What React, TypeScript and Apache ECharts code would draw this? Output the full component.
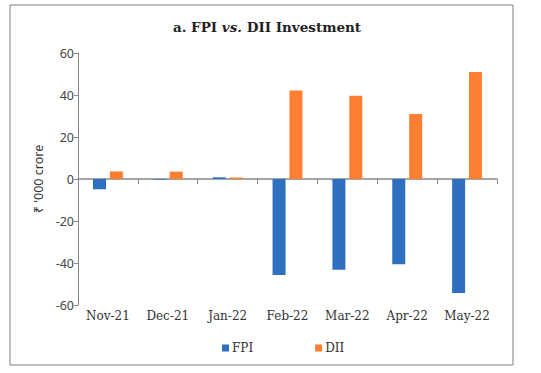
import React, { useEffect, useRef } from "react";
import * as echarts from "echarts";

const categories = ["Nov-21", "Dec-21", "Jan-22", "Feb-22", "Mar-22", "Apr-22", "May-22"];
const fpiValues = [-4.9, -0.3, 0.8, -45.7, -43.2, -40.6, -54.3];
const diiValues = [3.6, 3.5, 0.7, 42.2, 39.7, 31.0, 51.0];
const yTicks = { min: -60, max: 60, interval: 20 };
const seriesNames = ["FPI", "DII"];
const titleText = "{b|a. FPI }{i|vs.}{b| DII Investment}";
const yAxisName = "₹ '000 crore";

const SERIF = "'DejaVu Serif', serif";
const SANS = "'Noto Sans', sans-serif";

export default function App() {
  const ref = useRef<HTMLDivElement>(null);
  useEffect(() => {
    if (!ref.current) return;
    const chart = echarts.init(ref.current, null, { renderer: "svg" });
    chart.setOption({
      animation: false,
      backgroundColor: "#ffffff",
      graphic: [
        {
          type: "rect",
          shape: { x: 10, y: 5, width: 503, height: 360 },
          style: { fill: "none", stroke: "#7f7f7f", lineWidth: 1 },
          silent: true,
        },
      ],
      title: {
        text: titleText,
        left: 262,
        top: 15,
        textAlign: "center",
        textStyle: {
          rich: {
            b: { fontFamily: SERIF, fontWeight: "bold", fontSize: 13.5, color: "#222" },
            i: { fontFamily: SERIF, fontWeight: "bold", fontStyle: "italic", fontSize: 13.5, color: "#222" },
          },
        },
      },
      legend: {
        data: seriesNames,
        left: 217,
        top: 337,
        itemWidth: 7,
        itemHeight: 7,
        itemGap: 62,
        icon: "rect",
        textStyle: { fontFamily: SERIF, fontSize: 12, color: "#333", padding: [0, 0, 0, -2] },
      },
      grid: { left: 78, right: 44, top: 53, bottom: 68, containLabel: false },
      xAxis: [
        {
          type: "category",
          data: categories,
          position: "bottom",
          axisLine: { onZero: true, lineStyle: { color: "#888", width: 1.5 } },
          axisTick: { show: true, length: 5, lineStyle: { color: "#888" } },
          axisLabel: { show: false },
          splitLine: { show: false },
        },
        {
          type: "category",
          data: categories,
          position: "bottom",
          axisLine: { show: false, onZero: false },
          axisTick: { show: false },
          axisLabel: { show: true, interval: 0, margin: 5, fontFamily: SERIF, fontSize: 12, color: "#333" },
          splitLine: { show: false },
        },
      ],
      yAxis: {
        type: "value",
        min: yTicks.min,
        max: yTicks.max,
        interval: yTicks.interval,
        name: yAxisName,
        nameLocation: "middle",
        nameGap: 26,
        nameRotate: 90,
        nameTextStyle: { fontFamily: SANS, fontSize: 12.5, color: "#333" },
        axisLine: { show: true, lineStyle: { color: "#888", width: 1 } },
        axisTick: { show: true, length: 4, lineStyle: { color: "#888" } },
        axisLabel: { fontFamily: SANS, fontSize: 12.5, color: "#444", margin: 4 },
        splitLine: { show: false },
      },
      series: [
        {
          name: seriesNames[0],
          type: "bar",
          xAxisIndex: 0,
          data: fpiValues,
          barWidth: 13,
          barGap: "30%",
          itemStyle: { color: "#2f6fbf" },
        },
        {
          name: seriesNames[1],
          type: "bar",
          xAxisIndex: 0,
          data: diiValues,
          barWidth: 13,
          barGap: "30%",
          itemStyle: { color: "#ff7f32" },
        },
      ],
    });
    return () => chart.dispose();
  }, []);
  return (
    <div
      ref={ref}
      style={{ position: "fixed", left: 0, top: 0, width: 541, height: 373 }}
    />
  );
}
